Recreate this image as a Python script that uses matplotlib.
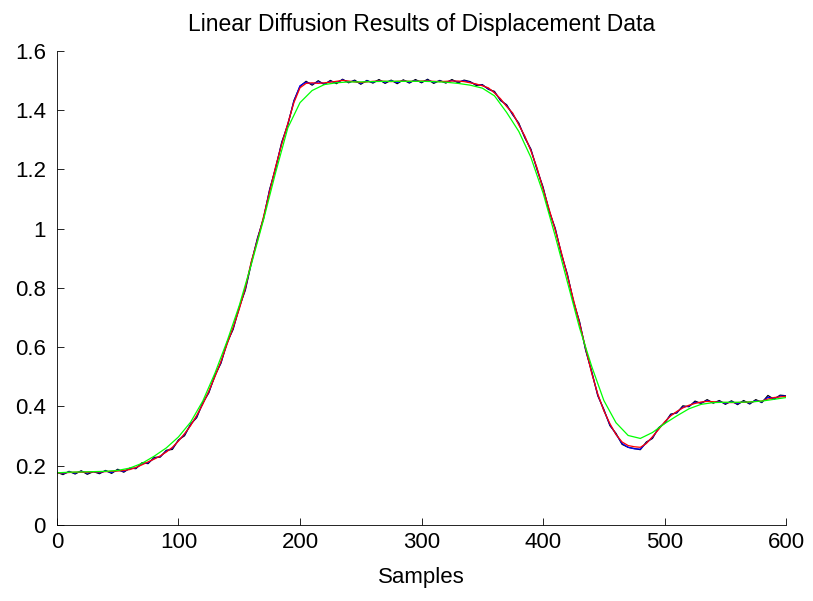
import numpy as np
import matplotlib.pyplot as plt

plt.rcParams['font.family'] = ['Liberation Sans', 'DejaVu Sans']

# sample positions (every 5 samples) for black / blue / red curves
samples = np.arange(0, 601, 5)
# sample positions (every 10 samples) for the green curve
samples_green = np.arange(0, 601, 10)

# raw displacement data (black, noisy)
raw_data = [
    0.178, 0.170, 0.181, 0.172, 0.183, 0.171, 0.180, 0.173, 0.184, 0.174,
    0.188, 0.178, 0.192, 0.190, 0.210, 0.207, 0.228, 0.229, 0.252, 0.255,
    0.287, 0.301, 0.340, 0.362, 0.412, 0.446, 0.505, 0.546, 0.616, 0.660,
    0.735, 0.792, 0.884, 0.968, 1.033, 1.132, 1.204, 1.292, 1.350, 1.432,
    1.480, 1.497, 1.484, 1.499, 1.486, 1.500, 1.489, 1.504, 1.492, 1.501,
    1.487, 1.500, 1.491, 1.503, 1.490, 1.501, 1.489, 1.502, 1.491, 1.503,
    1.492, 1.504, 1.490, 1.500, 1.491, 1.503, 1.492, 1.501, 1.496, 1.483,
    1.486, 1.470, 1.463, 1.432, 1.418, 1.384, 1.356, 1.306, 1.268, 1.199,
    1.140, 1.058, 1.001, 0.914, 0.846, 0.753, 0.686, 0.590, 0.518, 0.436,
    0.390, 0.335, 0.309, 0.272, 0.262, 0.258, 0.254, 0.280, 0.292, 0.328,
    0.343, 0.374, 0.378, 0.402, 0.399, 0.418, 0.410, 0.423, 0.411, 0.420,
    0.407, 0.419, 0.406, 0.420, 0.408, 0.423, 0.413, 0.437, 0.424, 0.438,
    0.436,
]

# lightly diffused (blue)
blue_data = [
    0.177, 0.173, 0.179, 0.175, 0.181, 0.175, 0.180, 0.176, 0.182, 0.177,
    0.185, 0.181, 0.190, 0.192, 0.206, 0.210, 0.225, 0.231, 0.249, 0.259,
    0.285, 0.305, 0.338, 0.366, 0.410, 0.449, 0.503, 0.549, 0.613, 0.664,
    0.732, 0.796, 0.887, 0.964, 1.037, 1.129, 1.207, 1.289, 1.353, 1.430,
    1.482, 1.494, 1.488, 1.495, 1.489, 1.497, 1.493, 1.502, 1.495, 1.498,
    1.490, 1.498, 1.494, 1.500, 1.494, 1.499, 1.493, 1.500, 1.494, 1.500,
    1.495, 1.501, 1.494, 1.498, 1.494, 1.500, 1.495, 1.499, 1.494, 1.486,
    1.484, 1.472, 1.460, 1.435, 1.415, 1.387, 1.353, 1.309, 1.265, 1.202,
    1.136, 1.061, 0.998, 0.917, 0.843, 0.756, 0.683, 0.593, 0.515, 0.439,
    0.387, 0.338, 0.306, 0.275, 0.262, 0.257, 0.256, 0.277, 0.295, 0.325,
    0.345, 0.371, 0.380, 0.398, 0.401, 0.414, 0.412, 0.420, 0.413, 0.417,
    0.410, 0.416, 0.409, 0.417, 0.411, 0.420, 0.415, 0.431, 0.427, 0.435,
    0.435,
]

# diffused (red)
red_data = [
    0.175, 0.176, 0.177, 0.178, 0.178, 0.178, 0.179, 0.179, 0.180, 0.181,
    0.182, 0.184, 0.187, 0.194, 0.203, 0.213, 0.222, 0.233, 0.246, 0.262,
    0.283, 0.308, 0.335, 0.370, 0.407, 0.452, 0.500, 0.552, 0.610, 0.667,
    0.728, 0.800, 0.890, 0.960, 1.040, 1.125, 1.210, 1.285, 1.355, 1.425,
    1.475, 1.490, 1.492, 1.490, 1.492, 1.494, 1.497, 1.500, 1.498, 1.495,
    1.493, 1.495, 1.497, 1.498, 1.497, 1.496, 1.497, 1.498, 1.497, 1.497,
    1.498, 1.498, 1.497, 1.496, 1.497, 1.498, 1.498, 1.496, 1.492, 1.488,
    1.482, 1.475, 1.458, 1.438, 1.412, 1.390, 1.350, 1.312, 1.262, 1.205,
    1.133, 1.065, 0.995, 0.920, 0.840, 0.760, 0.680, 0.597, 0.512, 0.442,
    0.385, 0.342, 0.305, 0.280, 0.268, 0.264, 0.262, 0.275, 0.298, 0.322,
    0.348, 0.368, 0.383, 0.395, 0.404, 0.410, 0.415, 0.417, 0.416, 0.414,
    0.413, 0.413, 0.413, 0.414, 0.415, 0.417, 0.418, 0.425, 0.430, 0.432,
    0.434,
]

# strongly diffused (green)
green_data = [
    0.176, 0.178, 0.179, 0.180, 0.181, 0.184, 0.192, 0.208, 0.232, 0.260,
    0.297, 0.347, 0.418, 0.512, 0.620, 0.740, 0.880, 1.030, 1.190, 1.340,
    1.425, 1.466, 1.486, 1.492, 1.495, 1.495, 1.496, 1.497, 1.497, 1.497,
    1.497, 1.496, 1.494, 1.490, 1.484, 1.474, 1.448, 1.392, 1.328, 1.240,
    1.120, 0.975, 0.820, 0.665, 0.535, 0.420, 0.345, 0.302, 0.292, 0.312,
    0.342, 0.368, 0.392, 0.407, 0.413, 0.414, 0.414, 0.415, 0.418, 0.424,
    0.430,
]

fig = plt.figure(figsize=(8.13, 6.01), dpi=100)
ax = fig.add_axes([0.070, 0.1265, 0.897, 0.789])

ax.plot(samples, raw_data, color='k', lw=0.9)
ax.plot(samples, blue_data, color='b', lw=0.9)
ax.plot(samples, red_data, color='r', lw=0.9)
ax.plot(samples_green, green_data, color='#00ff00', lw=0.9)

ax.set_xlim(0, 600)
ax.set_ylim(0, 1.6)
ax.set_xticks([0, 100, 200, 300, 400, 500, 600])
ax.set_yticks([0, 0.2, 0.4, 0.6, 0.8, 1.0, 1.2, 1.4, 1.6])
ax.set_yticklabels(['0', '0.2', '0.4', '0.6', '0.8', '1', '1.2', '1.4', '1.6'])
ax.tick_params(direction='in', length=5, width=0.6, labelsize=16, pad=5)
ax.tick_params(axis='y', pad=8)

ax.spines['top'].set_visible(False)
ax.spines['right'].set_visible(False)
ax.spines['left'].set_linewidth(0.6)
ax.spines['bottom'].set_linewidth(0.6)

ax.set_title('Linear Diffusion Results of Displacement Data', fontsize=16.5, pad=14)
ax.set_xlabel('Samples', fontsize=16, labelpad=10)

fig.savefig('out.png', dpi=100)
